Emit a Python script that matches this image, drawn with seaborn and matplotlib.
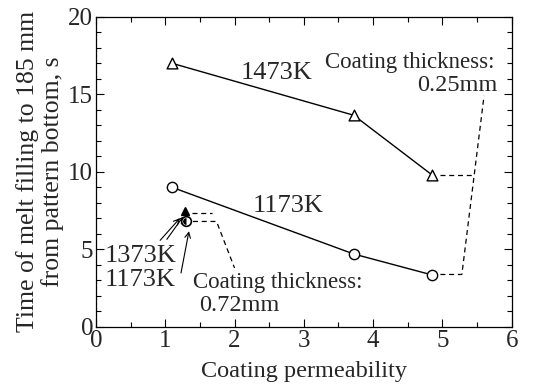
import numpy as np
import pandas as pd
import matplotlib
matplotlib.use('Agg')
import matplotlib.pyplot as plt
from matplotlib.ticker import MultipleLocator
import seaborn as sns

# ── Data ──────────────────────────────────────────────────────────────────────
perm_025 = [1.1, 3.72, 4.85]
time_1473 = [17.0, 13.65, 9.8]
time_1173 = [9.0, 4.7, 3.35]

perm_072 = [1.28, 1.3]
time_072 = [7.45, 6.85]          # 1373K, 1173K at 0.72 mm

# ── Style ─────────────────────────────────────────────────────────────────────
sns.set_style('ticks')
plt.rcParams['font.family'] = ['Liberation Serif', 'DejaVu Serif']

fig = plt.figure(figsize=(5.45, 3.91), dpi=100)
ax = fig.add_axes([0.176, 0.164, 0.763, 0.793])

df_hi = pd.DataFrame({'x': perm_025, 'y': time_1473})
df_lo = pd.DataFrame({'x': perm_025, 'y': time_1173})

sns.lineplot(data=df_hi, x='x', y='y', ax=ax, color='black', lw=1)
sns.lineplot(data=df_lo, x='x', y='y', ax=ax, color='black', lw=1)
sns.scatterplot(data=df_hi, x='x', y='y', ax=ax, marker='^', s=60,
                facecolor='white', edgecolor='black', linewidth=1, zorder=3)
sns.scatterplot(data=df_lo, x='x', y='y', ax=ax, marker='o', s=55,
                facecolor='white', edgecolor='black', linewidth=1, zorder=3)

# filled points for 0.72 mm coating
ax.plot(perm_072[0], time_072[0], marker='^', ms=6, color='black', zorder=4)
ax.plot(perm_072[1], time_072[1], marker='o', ms=7, mfc='white', mec='black',
        mew=1.2, zorder=4)
ax.plot(perm_072[1], time_072[1], marker='o', ms=5, fillstyle='left',
        color='black', mew=0, zorder=5)

# dashed brackets
dash = dict(color='black', lw=0.9, ls=(0, (4, 3)))
ax.plot([1.38, 1.68], [7.37, 7.37], **dash)
ax.plot([1.4, 1.74, 2.0], [6.8, 6.8, 3.8], **dash)
ax.plot([4.97, 5.45], [9.78, 9.78], **dash)
ax.plot([4.97, 5.28, 5.6], [3.38, 3.38, 14.9], **dash)

# arrows
arr = dict(arrowstyle='->', color='black', lw=0.8)
ax.annotate('', xy=(1.24, 7.15), xytext=(0.9, 5.45), arrowprops=arr)
ax.annotate('', xy=(1.28, 7.25), xytext=(1.0, 5.5), arrowprops=arr)
ax.annotate('', xy=(1.35, 6.35), xytext=(1.22, 3.3), arrowprops=arr)

# texts
fk = 19
fc = 16.5
ax.text(2.6, 16.4, '1473K', fontsize=fk, ha='center', va='center')
ax.text(2.78, 7.8, '1173K', fontsize=fk, ha='center', va='center')
ax.text(0.64, 4.6, '1373K', fontsize=fk, ha='center', va='center')
ax.text(0.64, 3.05, '1173K', fontsize=fk, ha='center', va='center')
ax.text(2.63, 2.85, 'Coating thickness:', fontsize=fc, ha='center', va='center')
ax.text(2.07, 1.4, '0.72mm', fontsize=fc + 1, ha='center', va='center')
ax.text(4.53, 17.05, 'Coating thickness:', fontsize=fc, ha='center', va='center')
ax.text(5.79, 15.6, '0.25mm', fontsize=fc + 1, ha='right', va='center')

# ── Axes ──────────────────────────────────────────────────────────────────────
ax.set_xlim(0, 6)
ax.set_ylim(0, 20)
ax.xaxis.set_major_locator(MultipleLocator(1))
ax.xaxis.set_minor_locator(MultipleLocator(0.5))
ax.yaxis.set_major_locator(MultipleLocator(5))
ax.yaxis.set_minor_locator(MultipleLocator(1))
ax.tick_params(which='both', direction='in', top=True, right=True,
               labelsize=18, width=0.8, color='black', pad=2)
ax.tick_params(which='major', length=6)
ax.tick_params(which='minor', length=3.5)
for sp in ax.spines.values():
    sp.set_linewidth(0.9)
    sp.set_color('black')

ax.set_xlabel('Coating permeability', fontsize=17.5, labelpad=7)
ax.set_ylabel('Time of melt filling to 185 mm\nfrom pattern bottom, s',
              fontsize=18.5, labelpad=3, linespacing=1.1)

fig.savefig('out.png', dpi=100)
